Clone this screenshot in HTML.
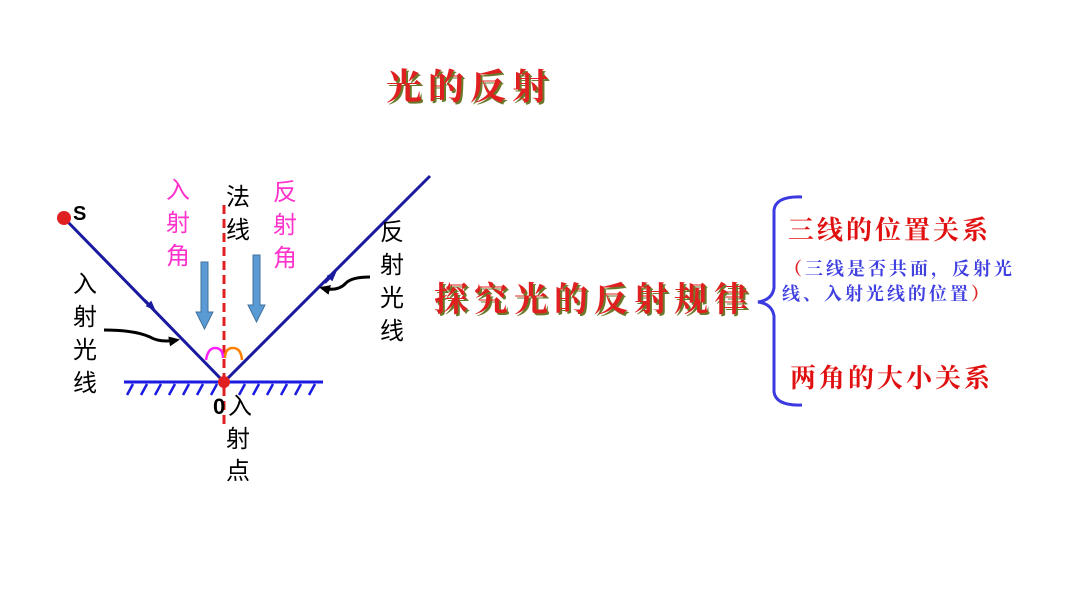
<!DOCTYPE html>
<html><head><meta charset="utf-8"><style>
html,body{margin:0;padding:0;background:#fff;}
svg{display:block;}
text{font-family:"Liberation Sans","Noto Sans CJK SC",sans-serif;}
.k{font-family:"Noto Serif CJK SC","Noto Sans CJK SC",serif;font-weight:bold;}
</style></head><body>
<svg width="1066" height="600" viewBox="0 0 1066 600" xmlns="http://www.w3.org/2000/svg">
<defs>
<marker id="ah" markerUnits="userSpaceOnUse" markerWidth="10" markerHeight="10" refX="5" refY="5" orient="auto"><path d="M0,1 L10,5 L0,9 z" fill="#1a1aa0"/></marker>
<marker id="bk" markerUnits="userSpaceOnUse" markerWidth="12" markerHeight="12" refX="8" refY="6" orient="auto"><path d="M0,1 L11,6 L0,11 z" fill="#000"/></marker>
</defs>
<text x="472" y="101" text-anchor="middle" font-size="36" class="k" fill="#6a7a2a" letter-spacing="6">光的反射</text>
<text x="470" y="99" text-anchor="middle" font-size="36" class="k" fill="#e02020" letter-spacing="6">光的反射</text>
<text x="596" y="313" text-anchor="middle" font-size="34" class="k" fill="#6a7a2a" letter-spacing="6">探究光的反射规律</text>
<text x="594" y="311" text-anchor="middle" font-size="34" class="k" fill="#e02020" letter-spacing="6">探究光的反射规律</text>
<path d="M802,197 Q776,196 774,210 L774,288 Q772,300 758,302 Q772,304 774,316 L774,392 Q776,406 802,405" fill="none" stroke="#3a3ae0" stroke-width="3"/>
<text x="788" y="239" font-size="26" class="k" fill="#e01010" letter-spacing="3">三线的位置关系</text>
<text x="784" y="275" font-size="18" class="k" fill="#4040e0" letter-spacing="3"><tspan fill="#e02020">（</tspan>三线是否共面，反射光</text>
<text x="782" y="300" font-size="18" class="k" fill="#4040e0" letter-spacing="3">线、入射光线的位置<tspan fill="#e02020">）</tspan></text>
<text x="790" y="387" font-size="26" class="k" fill="#e01010" letter-spacing="3">两角的大小关系</text>
<line x1="124" y1="382" x2="323" y2="382" stroke="#1a1ae0" stroke-width="3"/>
<g stroke="#1a1ae0" stroke-width="2.5">
<line x1="133" y1="384" x2="127" y2="395"/><line x1="147" y1="384" x2="141" y2="395"/><line x1="161" y1="384" x2="155" y2="395"/><line x1="175" y1="384" x2="169" y2="395"/><line x1="189" y1="384" x2="183" y2="395"/><line x1="203" y1="384" x2="197" y2="395"/><line x1="217" y1="384" x2="211" y2="395"/><line x1="245" y1="384" x2="239" y2="395"/><line x1="259" y1="384" x2="253" y2="395"/><line x1="273" y1="384" x2="267" y2="395"/><line x1="287" y1="384" x2="281" y2="395"/><line x1="301" y1="384" x2="295" y2="395"/><line x1="315" y1="384" x2="309" y2="395"/>
</g>
<line x1="224" y1="205" x2="224" y2="425" stroke="#e02020" stroke-width="3" stroke-dasharray="9,5"/>
<line x1="64" y1="218" x2="224" y2="382" stroke="#1a1aa0" stroke-width="3"/>
<line x1="224" y1="382" x2="430" y2="176" stroke="#1a1aa0" stroke-width="3"/>
<path d="M145,300 L152,307" stroke="#1a1aa0" stroke-width="2" marker-end="url(#ah)"/>
<path d="M325,283 L333,275" stroke="#1a1aa0" stroke-width="2" marker-end="url(#ah)"/>
<circle cx="64" cy="218" r="7" fill="#e02020"/>
<circle cx="224" cy="382" r="6" fill="#e02020"/>
<path d="M206,360 Q208,348 215,348 Q223,348 223,358" fill="none" stroke="#ff20ff" stroke-width="2.5"/>
<path d="M225,358 Q225,348 233,348 Q241,348 242,360" fill="none" stroke="#ff8000" stroke-width="2.5"/>
<path d="M104,330 Q135,330 150,337 Q160,343 177,340" fill="none" stroke="#000" stroke-width="3" marker-end="url(#bk)"/>
<path d="M370,277 Q352,277 346,283 Q338,292 322,288" fill="none" stroke="#000" stroke-width="3" marker-end="url(#bk)"/>
<path d="M201,262 h7 v50 h5 l-8.5,17 l-8.5,-17 h5 z" fill="#5b9bd5" stroke="#41719c" stroke-width="1"/>
<path d="M253,255 h7 v50 h5 l-8.5,17 l-8.5,-17 h5 z" fill="#5b9bd5" stroke="#41719c" stroke-width="1"/>
<text x="73" y="220" font-size="20" font-family="Liberation Serif" font-weight="bold" fill="#000">S</text>
<g font-size="24" fill="#ff33cc" text-anchor="middle"><text x="178" y="198">入</text><text x="178" y="231">射</text><text x="178" y="264">角</text>
<text x="285" y="200">反</text><text x="285" y="233">射</text><text x="285" y="266">角</text></g>
<g font-size="24" fill="#000" text-anchor="middle"><text x="238" y="205">法</text><text x="238" y="238">线</text>
<text x="85" y="292">入</text><text x="85" y="325">射</text><text x="85" y="358">光</text><text x="85" y="391">线</text>
<text x="392" y="240">反</text><text x="392" y="273">射</text><text x="392" y="306">光</text><text x="392" y="339">线</text>
<text x="240" y="414">入</text><text x="238" y="447">射</text><text x="238" y="479">点</text></g>
<text x="213" y="414" font-size="22" font-family="Liberation Serif" font-weight="bold" fill="#000">0</text>
</svg>
</body></html>
